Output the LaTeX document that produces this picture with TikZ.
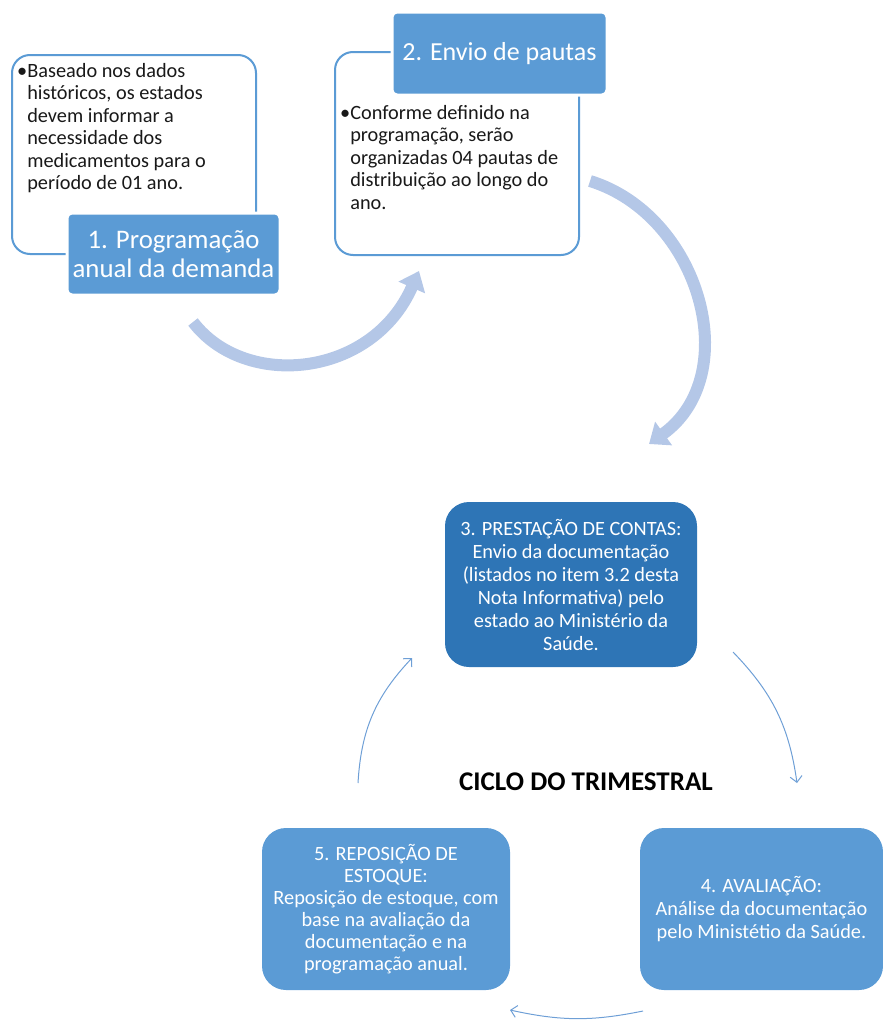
\documentclass[tikz,border=0pt]{standalone}
\usepackage{fontspec}
\setmainfont{Carlito}
\usetikzlibrary{positioning, arrows.meta}
\definecolor{accblue}{HTML}{5B9BD5}
\definecolor{darkblue}{HTML}{2E75B6}
\definecolor{paleblue}{HTML}{B4C7E7}
\definecolor{thinblue}{HTML}{6E9FD6}

\begin{document}
\begin{tikzpicture}[
    x=1pt, y=-1pt,
    outbox/.style={rectangle, rounded corners=18pt, draw=accblue, line width=2pt, fill=white, inner sep=0pt},
    titlebox/.style={rectangle, rounded corners=5pt, fill=accblue, draw=white, line width=3pt, text=white, align=center, inner sep=0pt},
    cyclebox/.style={rectangle, rounded corners=24pt, fill=accblue, text=white, align=center, font=\fontsize{20.3}{23}\selectfont, inner sep=0pt},
    bodytxt/.style={align=left, anchor=north west, font=\fontsize{20.3}{22.5}\selectfont, inner sep=0pt, text=black!90},
    bigarrow/.style={draw=paleblue, line width=12pt, -{Triangle[width=28pt, length=18pt]}},
    thinarrow/.style={draw=thinblue, line width=1pt, -{Straight Barb[width=12pt, length=6pt]}}
]
\useasboundingbox (0,0) rectangle (883,1020);
% step 1
\node[outbox, minimum width=244pt, minimum height=199pt] (box1) at (134,154.5) {};
\node[bodytxt] (txt1) at (17,63) {\textbullet Baseado nos dados\\\hphantom{\textbullet}históricos, os estados\\\hphantom{\textbullet}devem informar a\\\hphantom{\textbullet}necessidade dos\\\hphantom{\textbullet}medicamentos para o\\\hphantom{\textbullet}período de 01 ano.};
\node[titlebox, font=\fontsize{26.8}{29.5}\selectfont, minimum width=213pt, minimum height=82pt] (head1) at (173.5,254) {1. Programação\\anual da demanda};
% step 2
\node[outbox, minimum width=244pt, minimum height=203pt] (box2) at (457,153.5) {};
\node[bodytxt] (txt2) at (340,105) {\textbullet Conforme definido na\\\hphantom{\textbullet}programação, serão\\\hphantom{\textbullet}organizadas 04 pautas de\\\hphantom{\textbullet}distribuição ao longo do\\\hphantom{\textbullet}ano.};
\node[titlebox, font=\fontsize{26}{29.5}\selectfont, minimum width=215pt, minimum height=83pt] (head2) at (499.5,53.5) {2. Envio de pautas};
% big arrows
\coordinate (a1s) at (193,322);
\coordinate (a1e) at (419,271);
\coordinate (a2s) at (590,181);
\coordinate (a2e) at (649,444);
\draw[bigarrow] (a1s) .. controls (245,390) and (372,378) .. (a1e);
\draw[bigarrow] (a2s) .. controls (700,215) and (745,375) .. (a2e);
% quarterly cycle
\node[cyclebox, fill=darkblue, minimum width=252pt, minimum height=165pt] (prest) at (571,584.5) {3. PRESTAÇÃO DE CONTAS:\\Envio da documentação\\(listados no item 3.2 desta\\Nota Informativa) pelo\\estado ao Ministério da\\Saúde.};
\node[cyclebox, minimum width=243pt, minimum height=162pt] (aval) at (761.5,909) {4. AVALIAÇÃO:\\Análise da documentação\\pelo Ministétio da Saúde.};
\node[cyclebox, font=\fontsize{20.3}{22}\selectfont, minimum width=248pt, minimum height=162pt] (repos) at (386,909) {5. REPOSIÇÃO DE\\ESTOQUE:\\Reposição de estoque, com\\base na avaliação da\\documentação e na\\programação anual.};
\node[font=\bfseries\fontsize{27}{30}\selectfont] (ciclo) at (586,782) {CICLO DO TRIMESTRAL};
% thin arrows
\coordinate (c34s) at (733,652);
\coordinate (c34e) at (797,783);
\coordinate (c45s) at (643,1011);
\coordinate (c45e) at (510,1010);
\coordinate (c53s) at (358,783);
\coordinate (c53e) at (412,658);
\draw[thinarrow] (c34s) to[bend left=18] (c34e);
\draw[thinarrow] (c45s) to[bend left=12] (c45e);
\draw[thinarrow] (c53s) to[bend left=20] (c53e);
\end{tikzpicture}
\end{document}
